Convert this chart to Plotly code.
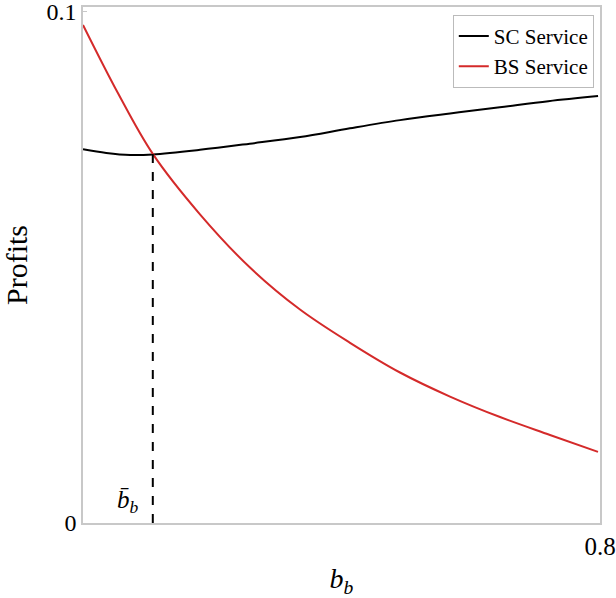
import plotly.graph_objects as go

# ---- data ----
b_sc = [0.0, 0.036, 0.073, 0.108, 0.181, 0.258, 0.336, 0.413, 0.4905, 0.568, 0.645, 0.72, 0.797]
profit_sc = [0.0730, 0.0723, 0.0719, 0.0720, 0.0729, 0.0741, 0.0754, 0.0771, 0.0787, 0.0800, 0.0812, 0.0824, 0.0834]

b_bs = [0.0, 0.054, 0.108, 0.181, 0.2584, 0.3358, 0.4132, 0.4905, 0.5679, 0.6453, 0.7226, 0.7969]
profit_bs = [0.0973, 0.0840, 0.0721, 0.0603, 0.0499, 0.0417, 0.0352, 0.0294, 0.0247, 0.0207, 0.0172, 0.0139]

b_bar = 0.108
profit_at_bbar = 0.0721

x_ticks = [0.8]
x_ticktext = ["0.8"]
y_ticks = [0, 0.1]
y_ticktext = ["0", "0.1"]

serif = "Liberation Serif, Times New Roman, serif"

fig = go.Figure()
fig.add_trace(go.Scatter(x=b_sc, y=profit_sc, mode="lines", name="SC Service",
                         line=dict(color="black", width=2, shape="spline", smoothing=1.0)))
fig.add_trace(go.Scatter(x=b_bs, y=profit_bs, mode="lines", name="BS Service",
                         line=dict(color="#d42a2a", width=2, shape="spline", smoothing=1.0)))
fig.add_trace(go.Scatter(x=[b_bar, b_bar], y=[0, profit_at_bbar], mode="lines", showlegend=False,
                         line=dict(color="black", width=2, dash="dash")))

fig.add_annotation(x=b_bar, y=0.0008, xref="x", yref="y", xanchor="right", yanchor="bottom",
                   xshift=-12, text="<i>b̄</i><sub><i>b</i></sub>", showarrow=False,
                   font=dict(family=serif, size=25, color="black"))

fig.update_layout(
    width=616, height=598,
    margin=dict(l=83, r=16, t=7, b=75, autoexpand=False),
    paper_bgcolor="white", plot_bgcolor="white",
    font=dict(family=serif, size=24, color="black"),
    showlegend=True,
    legend=dict(x=0.988, y=0.985, xanchor="right", yanchor="top",
                bordercolor="#bbbbbb", borderwidth=1, bgcolor="white",
                font=dict(family=serif, size=21, color="black"), tracegroupgap=0,
                itemwidth=30),
    xaxis=dict(range=[0, 0.8], tickvals=x_ticks, ticktext=x_ticktext,
               tickfont=dict(family=serif, size=25, color="black"),
               ticklabeloverflow="allow", automargin=False,
               showgrid=False, zeroline=False, showline=True, linecolor="#c8c8c8", linewidth=1.5,
               mirror=True, ticks="", title=dict(text="<i>b</i><sub><i>b</i></sub>", standoff=10,
                                                 font=dict(family=serif, size=28, color="black"))),
    yaxis=dict(range=[0, 0.1008], tickvals=y_ticks, ticktext=y_ticktext,
               tickfont=dict(family=serif, size=24, color="black"),
               ticklabeloverflow="allow", automargin=False,
               showgrid=False, zeroline=False, showline=True, linecolor="#c8c8c8", linewidth=1.5,
               mirror=True, ticks="inside", ticklen=4, tickcolor="#c8c8c8",
               title=dict(text="Profits", standoff=12, font=dict(family=serif, size=30, color="black"))),
)

fig.write_html("out.html")
